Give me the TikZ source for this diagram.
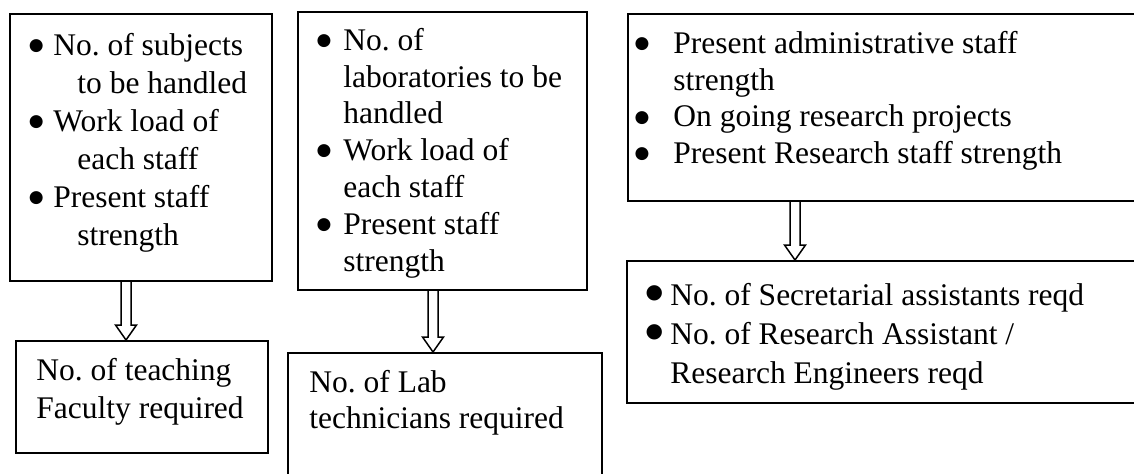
\documentclass[tikz,border=0pt]{standalone}
\usepackage{fontspec}
\usepackage{calc}
\setmainfont{Liberation Serif}
\newfontfamily\dotfont{DejaVu Sans}
\frenchspacing
\usetikzlibrary{calc,positioning}

% bullet: #1 dot size, #2 height of its centre, #3 column width
\newcommand{\dotmark}[2]{\raisebox{#2-(\height-\depth)/2}{\dotfont\fontsize{#1}{#1}\selectfont ●}}
\newcommand{\bul}[1]{\strut\makebox[#1][l]{\hspace*{2.5pt}\makebox[0pt]{\dotmark{8.5pt}{4.6pt}}}}
\newcommand{\bigbul}[1]{\strut\makebox[#1][l]{\hspace*{2.5pt}\makebox[0pt]{\dotmark{10pt}{6pt}}}}
\newcommand{\cont}[1]{\strut\hspace*{#1}}

\tikzset{
  box/.style={draw, line width=1pt, anchor=north west, inner sep=0pt},
  txt/.style={anchor=north west, align=left, inner sep=0pt},
  hollow arrow/.style={draw, line width=0.75pt, line join=miter, to path={
      let \p1=(\tikztostart), \p2=(\tikztotarget) in
      (\x1-2.5pt,\y1) -- (\x1-2.5pt,\y2+7.5pt) -- (\x1-5.25pt,\y2+7.5pt)
      -- (\x1,\y2) -- (\x1+5.25pt,\y2+7.5pt) -- (\x1+2.5pt,\y2+7.5pt)
      -- (\x1+2.5pt,\y1)}}
}

\begin{document}
\begin{tikzpicture}[x=0.5pt, y=-0.5pt]
  \useasboundingbox (0,0) rectangle (1134,473);

  % Boxes
  \node[box, minimum width=131pt, minimum height=133.5pt] (subj) at (9,13) {};
  \node[box, minimum width=126pt, minimum height=56pt] (fac) at (15,340) {};
  \node[box, minimum width=144.5pt, minimum height=139pt] (lab) at (297,11) {};
  \node[box, minimum width=157pt, minimum height=69pt] (tech) at (287,352) {};
  \node[box, minimum width=262pt, minimum height=93.5pt] (admin) at (627,13) {};
  \node[box, minimum width=262pt, minimum height=71pt] (res) at (626,260) {};

  % Texts
  \node[txt, font=\fontsize{15.75}{19}\selectfont] (subjtxt)
    at ([shift={(22,15.4)}]subj.north west)
    {\bul{11pt}No. of subjects\\
     \cont{23pt}to be handled\\
     \bul{11pt}Work load of\\
     \cont{23pt}each staff\\
     \bul{11pt}Present staff\\
     \cont{23pt}strength};
  \node[txt, font=\fontsize{15.75}{19}\selectfont] (factxt)
    at ([shift={(21,13.4)}]fac.north west)
    {\strut No. of teaching\\ \strut Faculty required};
  \node[txt, font=\fontsize{15.75}{18.4}\selectfont] (labtxt)
    at ([shift={(21.7,13.2)}]lab.north west)
    {\bul{12.15pt}No. of\\
     \cont{12.15pt}laboratories to be\\
     \cont{12.15pt}handled\\
     \bul{12.15pt}Work load of\\
     \cont{12.15pt}each staff\\
     \bul{12.15pt}Present staff\\
     \cont{12.15pt}strength};
  \node[txt, font=\fontsize{15.75}{18}\selectfont] (techtxt)
    at ([shift={(22,14.8)}]tech.north west)
    {\strut No. of Lab\\ \strut technicians required};
  \node[txt, font=\fontsize{15.75}{18.35}\selectfont] (admintxt)
    at ([shift={(9.7,14.3)}]admin.north west)
    {\bul{18.15pt}Present administrative staff\\
     \cont{18.15pt}strength\\
     \bul{18.15pt}On going research projects\\
     \bul{18.15pt}Present Research staff strength};
  \node[txt, font=\fontsize{15.75}{19.5}\selectfont] (restxt)
    at ([shift={(23,17.7)}]res.north west)
    {\bigbul{10.5pt}No. of Secretarial assistants reqd\\
     \bigbul{10.5pt}No. of Research Assistant /\\
     \cont{10.5pt}Research Engineers reqd};

  % Arrows
  \draw[hollow arrow] ([xshift=-7.5pt]subj.south) to ([xshift=-7.5pt]subj.south |- fac.north);
  \draw[hollow arrow] ([xshift=-4.75pt]lab.south) to ([xshift=-4.75pt]lab.south |- tech.north);
  \draw[hollow arrow] ([xshift=84pt]admin.south west) to ([xshift=84pt]admin.south west |- res.north);
\end{tikzpicture}
\end{document}
